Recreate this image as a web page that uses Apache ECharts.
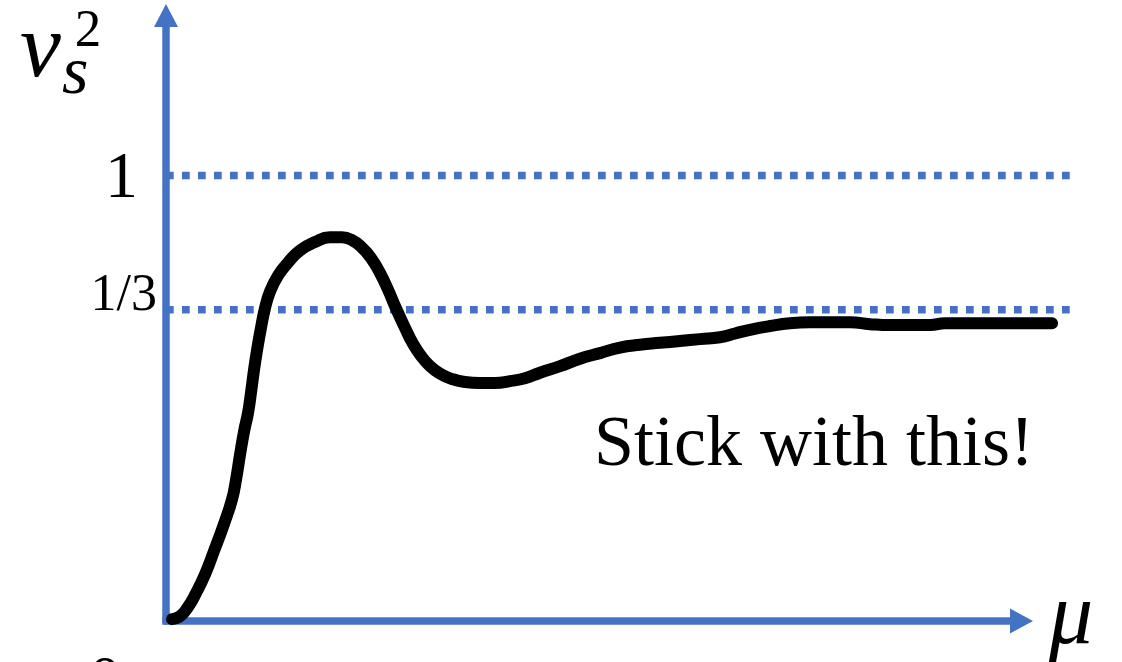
<!DOCTYPE html>
<html>
<head>
<meta charset="utf-8">
<script src="https://cdn.jsdelivr.net/npm/echarts@6/dist/echarts.min.js"></script>
<style>
  html, body { margin: 0; padding: 0; background: #ffffff; }
  #chart { width: 1122px; height: 662px; }
</style>
</head>
<body>
<div id="chart"></div>
<script>
// Chemical potential (arbitrary units along the horizontal axis)
const muValues = [
  0.70, 1.64, 2.57, 3.51, 4.56, 5.61, 6.78, 7.71, 8.18, 8.65,
  9.12, 9.59, 9.94, 10.29, 10.64, 11.10, 11.57, 12.16, 13.09, 14.26,
  15.66, 17.42, 19.17, 20.57, 21.74, 22.91, 23.96, 25.01, 25.95, 26.88,
  27.94, 28.87, 29.81, 30.86, 32.03, 33.20, 34.95, 36.70, 38.46, 40.21,
  41.96, 43.72, 46.06, 48.39, 50.73, 53.07, 55.41, 57.74, 60.08, 62.42,
  64.76, 66.51, 68.26, 70.60, 72.94, 75.28, 77.61, 79.95, 82.29, 84.63,
  86.97, 89.30, 91.06, 92.81, 96.32, 99.82, 103.57
];

// Squared speed of sound v_s^2 at each mu
const soundSpeedSq = [
  0.002, 0.005, 0.015, 0.030, 0.050, 0.075, 0.104, 0.130, 0.151, 0.178,
  0.203, 0.223, 0.245, 0.269, 0.290, 0.314, 0.335, 0.353, 0.370, 0.384,
  0.397, 0.406, 0.411, 0.411, 0.408, 0.400, 0.389, 0.373, 0.355, 0.335,
  0.314, 0.297, 0.284, 0.273, 0.265, 0.260, 0.256, 0.255, 0.255, 0.257,
  0.260, 0.266, 0.273, 0.281, 0.287, 0.293, 0.296, 0.298, 0.300, 0.302,
  0.304, 0.308, 0.312, 0.316, 0.319, 0.320, 0.320, 0.320, 0.318, 0.317,
  0.317, 0.317, 0.319, 0.319, 0.319, 0.319, 0.319
];

// Reference levels: causal limit and conformal value
const levelValues = [1, 1 / 3];
const levelLabels = ['1', '1/3'];
const levelSpan = [0, 106];

const blue = '#4472C4';
const serif = '"Liberation Serif", "DejaVu Serif", serif';

const curve = muValues.map((m, i) => [m, soundSpeedSq[i]]);

const levelSeries = levelValues.map((v, i) => ({
  type: 'line',
  name: 'level-' + levelLabels[i],
  xAxisIndex: 0,
  yAxisIndex: 0,
  data: levelSpan.map(x => [x, v]),
  symbol: 'none',
  silent: true,
  z: 2,
  lineStyle: { color: blue, width: 7.5, type: [7.7, 8.3], cap: 'butt' }
}));

const rich = {};
levelLabels.forEach((lab, i) => {
  rich['lvl' + i] = i === 0
    ? { fontFamily: serif, fontSize: 66, color: '#000', padding: [9, 19, 0, 0] }
    : { fontFamily: serif, fontSize: 52, color: '#000', padding: [0, 0, 28, 0] };
});

// Shared vertical scale: linear below and above a compressed span
const yScale = {
  type: 'value',
  min: 0,
  max: 1.1714,
  breaks: [{ start: 0.43, end: 0.98, gap: 0.0273 }],
  breakArea: { show: false }
};

const axisLineStyle = { color: blue, width: 7.5 };

const chart = echarts.init(document.getElementById('chart'), null, { renderer: 'canvas' });

chart.setOption({
  animation: false,
  backgroundColor: '#ffffff',
  grid: [
    // plotting area (reaches a little past the arrow heads)
    { left: 166, right: 40.6, top: 15.5, bottom: 41, containLabel: false },
    // axes with arrow heads
    { left: 166, right: 100.5, top: 15.5, bottom: 41, containLabel: false }
  ],
  xAxis: [
    {
      gridIndex: 0, type: 'value', min: 0, max: 107,
      axisLine: { show: false }, axisTick: { show: false },
      axisLabel: { show: false }, splitLine: { show: false }
    },
    {
      gridIndex: 1, type: 'value', min: 0, max: 100,
      axisTick: { show: false }, axisLabel: { show: false }, splitLine: { show: false },
      axisLine: {
        show: true, onZero: false,
        symbol: ['none', 'triangle'], symbolSize: [25, 23],
        lineStyle: Object.assign({ cap: 'square' }, axisLineStyle)
      }
    }
  ],
  yAxis: [
    Object.assign({}, yScale, {
      gridIndex: 0,
      splitLine: { show: false },
      axisTick: { show: false },
      axisLine: { show: false },
      axisLabel: {
        show: true,
        customValues: levelValues,
        margin: 9,
        formatter: (v) => {
          const i = levelValues.findIndex(l => Math.abs(l - v) < 1e-9);
          return i < 0 ? '' : '{lvl' + i + '|' + levelLabels[i] + '}';
        },
        rich: rich
      }
    }),
    {
      gridIndex: 1, type: 'value', min: 0, max: 1,
      splitLine: { show: false }, axisTick: { show: false }, axisLabel: { show: false },
      axisLine: {
        show: true, onZero: false,
        symbol: ['none', 'triangle'], symbolSize: [24, 23],
        lineStyle: axisLineStyle
      }
    }
  ],
  series: [
    ...levelSeries,
    {
      type: 'line',
      name: 'vs2',
      xAxisIndex: 0,
      yAxisIndex: 0,
      data: curve,
      symbol: 'none',
      smooth: 0.5,
      z: 3,
      lineStyle: { color: '#000000', width: 12, cap: 'round', join: 'round' }
    }
  ],
  graphic: [
    { type: 'text', x: 20, y: 52, style: { text: 'v', font: 'italic 92px ' + serif, fill: '#000', align: 'left', verticalAlign: 'middle' } },
    { type: 'text', x: 62, y: 75, style: { text: 's', font: 'italic 68px ' + serif, fill: '#000', align: 'left', verticalAlign: 'middle' } },
    { type: 'text', x: 88, y: 32, style: { text: '2', font: '53px ' + serif, fill: '#000', align: 'center', verticalAlign: 'middle' } },
    { type: 'text', x: 1049, y: 620, style: { text: 'μ', font: 'italic 88px ' + serif, fill: '#000', align: 'left', verticalAlign: 'middle' } },
    { type: 'text', x: 105, y: 683, style: { text: '0', font: '64px ' + serif, fill: '#000', align: 'center', verticalAlign: 'middle' } },
    { type: 'text', x: 594, y: 446, style: { text: 'Stick with this!', font: '72px ' + serif, fill: '#000', align: 'left', verticalAlign: 'middle' } }
  ]
});
</script>
</body>
</html>
